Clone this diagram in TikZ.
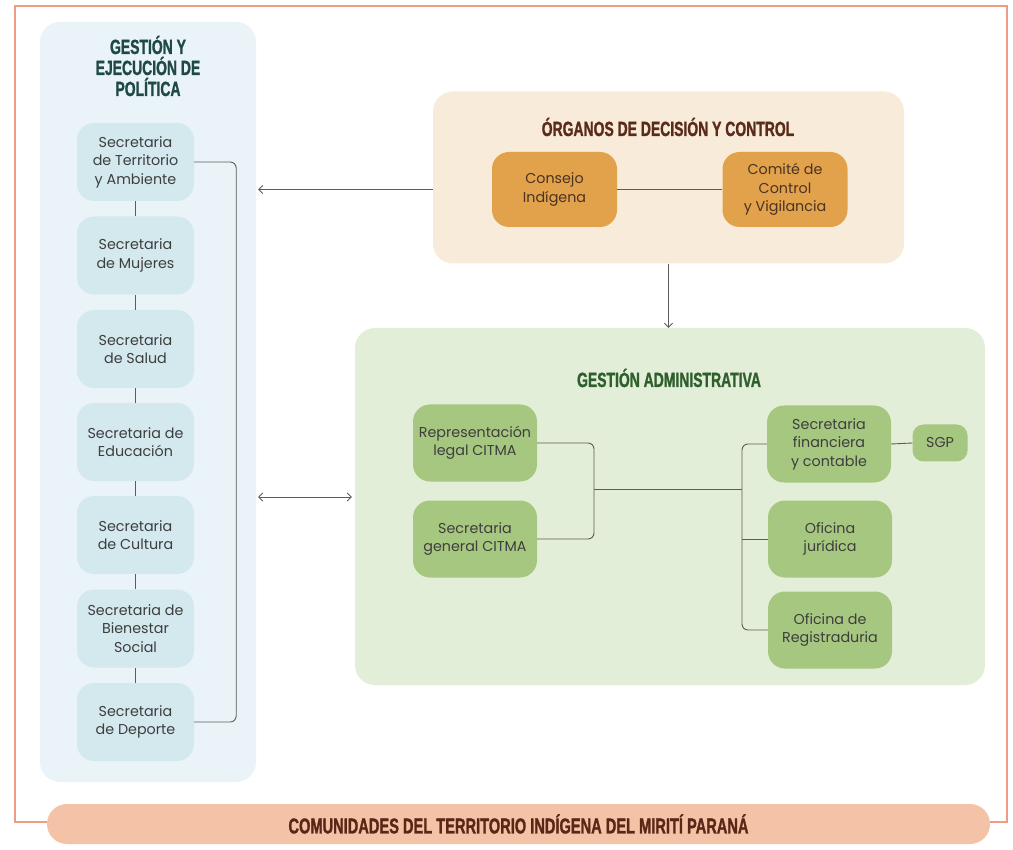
\documentclass[tikz,border=0pt]{standalone}
\usepackage{fontspec}
\setmainfont{Poppins}
\newfontfamily\headfont[FakeStretch=0.68,FakeBold=1.2]{Liberation Sans}
\usetikzlibrary{arrows.meta,calc}

\definecolor{frameC}{HTML}{EF9C84}
\definecolor{lineC}{HTML}{5C5C5C}
\definecolor{txtC}{HTML}{3E3E3E}
\definecolor{bluePanel}{HTML}{EAF3F8}
\definecolor{blueBox}{HTML}{D3E9EE}
\definecolor{blueHead}{HTML}{1F4A43}
\definecolor{orgPanel}{HTML}{F8EBDA}
\definecolor{orgBox}{HTML}{E1A24B}
\definecolor{orgHead}{HTML}{5A2B1B}
\definecolor{orgTxt}{HTML}{4A3322}
\definecolor{grnPanel}{HTML}{E3EED8}
\definecolor{grnBox}{HTML}{A6C77F}
\definecolor{grnHead}{HTML}{2F5F2C}
\definecolor{pillC}{HTML}{F4C2A7}
\definecolor{pillTxt}{HTML}{5A2616}

\tikzset{
  panel/.style={rounded corners=20pt, inner sep=0pt},
  unit/.style={rounded corners=17pt, inner sep=1pt, align=center,
    font=\fontsize{14.3}{18.5}\selectfont, text=txtC},
  bluebox/.style={unit, fill=blueBox, minimum width=117pt, minimum height=78pt},
  orgbox/.style={unit, fill=orgBox, text=orgTxt, minimum width=125pt, minimum height=75pt},
  grnbox/.style={unit, fill=grnBox, minimum width=124pt, minimum height=77pt},
  heading/.style={font=\headfont\bfseries\fontsize{20.5}{21}\selectfont, align=center},
  conn/.style={draw=lineC, line width=0.9pt},
  tip/.style={-{Straight Barb[length=4pt,width=8pt]}},
}

\begin{document}
\begin{tikzpicture}[x=1pt,y=-1pt]
\useasboundingbox (0,0) rectangle (1013,850);
\fill[white] (0,0) rectangle (1013,850);

% outer frame
\draw[frameC, line width=1.5pt] (15,6) rectangle (1007,822);

% panels
\node[panel, fill=bluePanel, minimum width=216pt, minimum height=760pt] (blue) at (148,402) {};
\node[panel, fill=orgPanel, minimum width=471pt, minimum height=172pt] (org) at (668.5,177.5) {};
\node[panel, fill=grnPanel, minimum width=630pt, minimum height=357pt] (grn) at (670,506.5) {};

% headings
\node[heading, text=blueHead] (hblue) at (148,66) {GESTIÓN Y\\EJECUCIÓN DE\\POLÍTICA};
\node[heading, text=orgHead] (horg) at (668,127) {ÓRGANOS DE DECISIÓN Y CONTROL};
\node[heading, text=grnHead] (hgrn) at (669,378) {GESTIÓN ADMINISTRATIVA};

% policy secretariats
\node[bluebox] (s1) at (135.5,162) {Secretaria\\de Territorio\\y Ambiente};
\node[bluebox] (s2) at (135.5,255.5) {Secretaria\\de Mujeres};
\node[bluebox] (s3) at (135.5,349) {Secretaria\\de Salud};
\node[bluebox] (s4) at (135.5,442) {Secretaria de\\Educación};
\node[bluebox] (s5) at (135.5,535) {Secretaria\\de Cultura};
\node[bluebox] (s6) at (135.5,628.5) {Secretaria de\\Bienestar\\Social};
\node[bluebox] (s7) at (135.5,722) {Secretaria\\de Deporte};

\foreach \a/\b in {s1/s2,s2/s3,s3/s4,s4/s5,s5/s6,s6/s7}
  \draw[conn] (\a.south) -- (\b.north);
\draw[conn, rounded corners=6pt] (s1.east) -- ++(42,0) |- (s7.east);

% decision and control bodies
\node[orgbox] (cons) at (554.5,189.5) {Consejo\\Indígena};
\node[orgbox] (comi) at (785,189.5) {Comité de\\Control\\y Vigilancia};
\draw[conn] (cons.east) -- (comi.west);

% administrative management
\node[grnbox] (rep) at (475,443) {Representación\\legal CITMA};
\node[grnbox] (sgen) at (475,539) {Secretaria\\general CITMA};
\node[grnbox] (fin) at (829,444) {Secretaria\\financiera\\y contable};
\node[grnbox, minimum width=55pt, minimum height=37pt, rounded corners=11pt] (sgp) at (940,443) {SGP};
\node[grnbox] (jur) at (830,539) {Oficina\\jurídica};
\node[grnbox] (reg) at (830,630) {Oficina de\\Registraduria};

\coordinate (jl) at (594,489);
\coordinate (jr) at (742,489);
\draw[conn, rounded corners=6pt] (rep.east) -| (jl) |- (sgen.east);
\draw[conn] (jl) -- (jr);
\draw[conn, rounded corners=6pt] (fin.west) -| (jr) |- (reg.west);
\draw[conn] (jur.west) -- (jur.west -| jr);
\draw[conn] (fin.east) -- (sgp.west);

% links between panels
\draw[conn, tip] (org.west |- cons) -- ([xshift=2pt]blue.east |- cons);
\draw[conn, tip] (org.south) -- (org.south |- grn.north);
\coordinate (da) at (300,497);
\draw[conn, {Straight Barb[length=4pt,width=8pt]}-{Straight Barb[length=4pt,width=8pt]}]
  ([xshift=2pt]blue.east |- da) -- ([xshift=-3pt]grn.west |- da);

% communities band
\node[panel, rounded corners=20pt, fill=pillC, minimum width=943pt, minimum height=40pt,
      heading, font=\headfont\bfseries\fontsize{21.5}{22}\selectfont, text=pillTxt] (pill) at (518.5,824) {COMUNIDADES DEL TERRITORIO INDÍGENA DEL MIRITÍ PARANÁ};
\end{tikzpicture}
\end{document}
